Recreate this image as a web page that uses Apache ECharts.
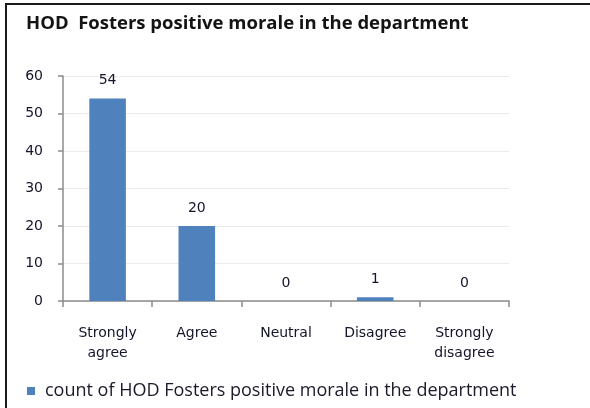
<!DOCTYPE html>
<html><head><meta charset="utf-8">
<script src="https://cdn.jsdelivr.net/npm/echarts@6/dist/echarts.min.js"></script>
<style>html,body{margin:0;padding:0;background:#fff}#c{width:590px;height:408px}</style>
</head><body><div id="c"></div>
<script>
const titleText = 'HOD  Fosters positive morale in the department';
const categories = ['Strongly\nagree', 'Agree', 'Neutral', 'Disagree', 'Strongly\ndisagree'];
const seriesName = 'count of HOD Fosters positive morale in the department';
const values = [54, 20, 0, 1, 0];
const yTicks = [0, 10, 20, 30, 40, 50, 60];

const chart = echarts.init(document.getElementById('c'));
chart.setOption({
  animation: false,
  graphic: [{
    type: 'rect', shape: {x: 6, y: 4, width: 700, height: 600},
    style: {fill: 'none', stroke: '#1a1a1a', lineWidth: 2}, z: 100
  }],
  title: {
    text: titleText, left: 21, top: 9,
    textStyle: {fontFamily: 'Open Sans', fontWeight: 'bold', fontSize: 18.5, color: '#141414'}
  },
  legend: {
    data: [seriesName], left: 22, top: 377, itemWidth: 8, itemHeight: 8,
    icon: 'rect',
    textStyle: {fontFamily: 'Open Sans', fontSize: 18, color: '#1a1a2a', padding: [0, 0, 0, 5]}
  },
  grid: {left: 63, right: 81, top: 76, bottom: 107},
  xAxis: {
    type: 'category', data: categories,
    axisLine: {lineStyle: {color: '#8c8c8c', width: 1.5}},
    axisTick: {show: true, length: 6, lineStyle: {color: '#8c8c8c', width: 1.5}},
    axisLabel: {fontFamily: 'DejaVu Sans', fontSize: 14, color: '#14142a', margin: 22, lineHeight: 20, interval: 0}
  },
  yAxis: {
    type: 'value', min: yTicks[0], max: yTicks[yTicks.length - 1], interval: 10,
    axisLine: {show: true, lineStyle: {color: '#8c8c8c', width: 1.5}},
    axisTick: {show: true, length: 5, lineStyle: {color: '#8c8c8c', width: 1.5}},
    axisLabel: {fontFamily: 'DejaVu Sans', fontSize: 14, color: '#14142a', margin: 20},
    splitLine: {lineStyle: {color: '#ebebeb', width: 1}}
  },
  series: [{
    name: seriesName, type: 'bar', data: values, barWidth: '41%',
    itemStyle: {color: '#4F81BD'},
    label: {show: true, position: 'top', distance: 11, fontFamily: 'DejaVu Sans', fontSize: 14, color: '#14142a'}
  }]
});
</script></body></html>
